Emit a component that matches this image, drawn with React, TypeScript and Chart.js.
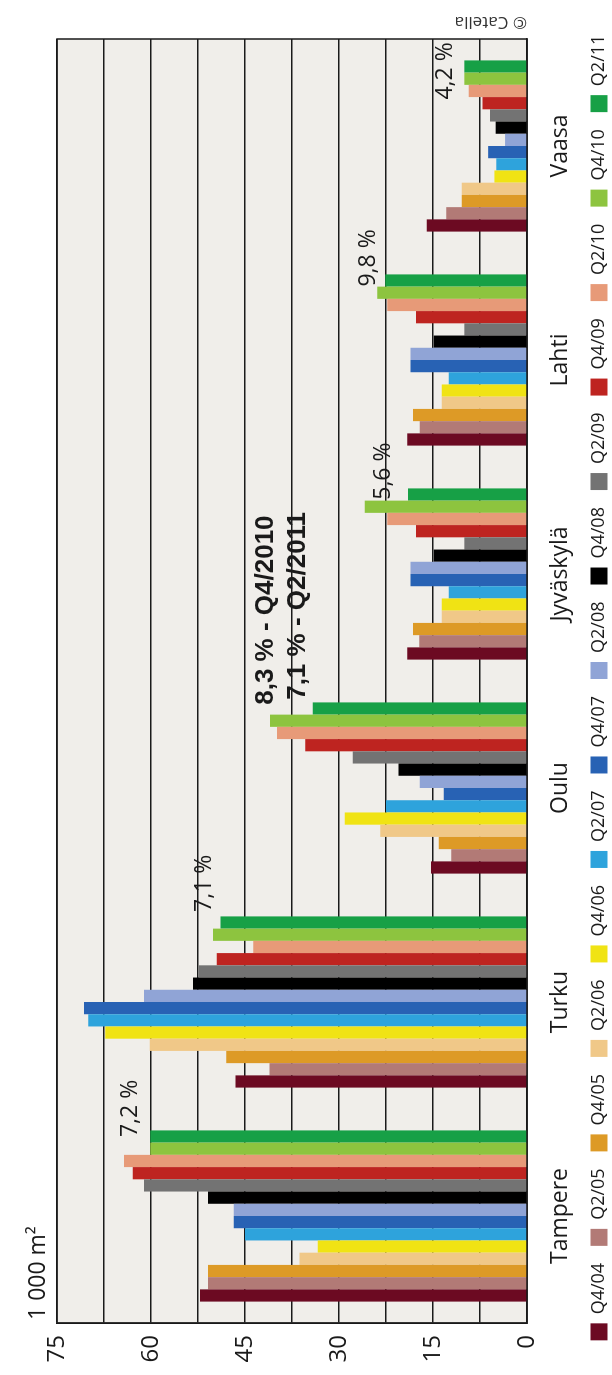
import { useEffect, useRef } from 'react';
import { Chart, registerables } from 'chart.js';

Chart.register(...registerables);

// Office space vacancy by city, 1 000 m², half-year snapshots
const cities = ['Tampere', 'Turku', 'Oulu', 'Jyväskylä', 'Lahti', 'Vaasa'];
const periods = ['Q4/04', 'Q2/05', 'Q4/05', 'Q2/06', 'Q4/06', 'Q2/07', 'Q4/07', 'Q2/08', 'Q4/08', 'Q2/09', 'Q4/09', 'Q2/10', 'Q4/10', 'Q2/11'];

const q4_04 = [52.2, 46.5, 15.3, 19.1, 19.1, 16.0];
const q2_05 = [50.9, 41.1, 12.1, 17.2, 17.1, 12.9];
const q4_05 = [50.9, 48.0, 14.1, 18.2, 18.2, 10.4];
const q2_06 = [36.3, 60.2, 23.4, 13.6, 13.6, 10.4];
const q4_06 = [33.4, 67.3, 29.1, 13.6, 13.6, 5.2];
const q2_07 = [45.0, 70.0, 22.5, 12.5, 12.5, 4.9];
const q4_07 = [46.8, 70.7, 13.3, 18.6, 18.6, 6.2];
const q2_08 = [46.8, 61.1, 17.1, 18.6, 18.6, 3.5];
const q4_08 = [50.9, 53.3, 20.5, 14.9, 14.9, 5.0];
const q2_09 = [61.1, 52.4, 27.8, 10.0, 10.0, 5.9];
const q4_09 = [62.9, 49.5, 35.4, 17.7, 17.7, 7.1];
const q2_10 = [64.3, 43.7, 39.9, 22.3, 22.3, 9.3];
const q4_10 = [60.1, 50.1, 41.0, 25.9, 23.9, 10.0];
const q2_11 = [60.1, 48.9, 34.2, 19.0, 22.6, 10.0];

const seriesValues = [q4_04, q2_05, q4_05, q2_06, q4_06, q2_07, q4_07, q2_08, q4_08, q2_09, q4_09, q2_10, q4_10, q2_11];

const seriesColors = [
  '#6c0a22', '#b27a76', '#dd9a26', '#f0c888', '#f0e314', '#2ea3dc', '#2862b4',
  '#90a4d6', '#000000', '#737373', '#be2420', '#e79a78', '#8dc43f', '#17a046',
];

const valueTicks = [0, 15, 30, 45, 60, 75];

// Vacancy-rate notes: text, anchor on the category axis, baseline level on the value axis
const noteTexts = ['7,2 %', '7,1 %', '8,3 % - Q4/2010', '7,1 % - Q2/2011', '5,6 %', '9,8 %', '4,2 %'];
const noteAnchors = [0.369, 1.421, 2.389, 2.412, 3.347, 4.343, 5.217];
const noteLevels = [62.2, 50.4, 40.6, 35.5, 21.9, 24.3, 11.9];
const noteBold = [false, false, true, true, false, false, false];

const unitLabel = '1 000 m²';
const sourceLabel = '© Catella';

const FAMILY = '"Open Sans", "Noto Sans", sans-serif';
const INK = '#1a1a1a';
const PLOT_BG = '#f0eeea';

const W = 1375;
const H = 640;

const decorPlugin = {
  id: 'decor',
  beforeDraw(chart: any) {
    const { ctx, chartArea: a, scales } = chart;
    ctx.save();
    ctx.fillStyle = PLOT_BG;
    ctx.fillRect(a.left, a.top, a.right - a.left, a.bottom - a.top);
    ctx.fillStyle = INK;
    ctx.textAlign = 'left';
    ctx.textBaseline = 'alphabetic';
    noteTexts.forEach((t, i) => {
      ctx.font = noteBold[i]
        ? 'bold 26px "Liberation Sans", Arial, sans-serif'
        : `23px ${FAMILY}`;
      const x = scales.x.getPixelForValue(noteAnchors[i]);
      const y = scales.y.getPixelForValue(noteLevels[i]);
      ctx.fillText(t, x, y);
    });
    ctx.restore();
  },
  beforeDatasetsDraw(chart: any) {
    const { ctx, chartArea: a } = chart;
    ctx.save();
    ctx.strokeStyle = INK;
    ctx.lineWidth = 1.5;
    ctx.strokeRect(a.left, a.top, a.right - a.left, a.bottom - a.top);
    ctx.restore();
  },
  afterDraw(chart: any) {
    const { ctx, chartArea: a } = chart;
    ctx.save();
    ctx.fillStyle = INK;
    ctx.font = `23px ${FAMILY}`;
    ctx.textAlign = 'left';
    ctx.textBaseline = 'alphabetic';
    ctx.fillText(unitLabel, a.left + 3, a.top - 12);

    ctx.fillStyle = '#333333';
    ctx.font = `17px ${FAMILY}`;
    ctx.translate(a.right + 22, a.bottom);
    ctx.rotate(-Math.PI / 2);
    ctx.fillText(sourceLabel, 0, 0);
    ctx.restore();
  },
};

export default function App() {
  const canvasRef = useRef<HTMLCanvasElement | null>(null);

  useEffect(() => {
    const canvas = canvasRef.current;
    if (!canvas) return;
    const chart = new Chart(canvas, {
      type: 'bar',
      data: {
        labels: cities,
        datasets: periods.map((p, i) => ({
          label: p,
          data: seriesValues[i],
          backgroundColor: seriesColors[i],
          borderWidth: 0,
          barPercentage: 1,
          categoryPercentage: 0.8,
        })),
      },
      options: {
        responsive: false,
        animation: false,
        devicePixelRatio: 1,
        layout: { padding: { top: 57, right: 0, bottom: 22, left: 0 } },
        plugins: {
          legend: {
            position: 'bottom',
            labels: {
              boxWidth: 17,
              boxHeight: 17,
              padding: 17,
              color: INK,
              font: { family: FAMILY, size: 18 },
            },
          },
          tooltip: { enabled: false },
        },
        scales: {
          x: {
            grid: { display: false },
            border: { display: true, color: INK, width: 1.5 },
            ticks: {
              color: INK,
              font: { family: FAMILY, size: 23 },
              padding: 12,
              maxRotation: 0,
              autoSkip: false,
            },
            afterFit(scale: any) {
              scale.height = 46;
            },
          },
          y: {
            min: 0,
            max: 75,
            grid: { color: INK, lineWidth: 1.5, drawTicks: false },
            border: { display: true, color: INK, width: 1.5 },
            ticks: {
              stepSize: 7.5,
              padding: 12,
              color: INK,
              font: { family: FAMILY, size: 24 },
              callback: (v: any) => (valueTicks.includes(Number(v)) ? String(v) : ''),
            },
            afterFit(scale: any) {
              scale.width = 52;
            },
          },
          // empty strip on the far side that holds the copyright line
          yRight: {
            position: 'right',
            min: 0,
            max: 75,
            grid: { display: false },
            border: { display: false },
            ticks: { display: false },
            afterFit(scale: any) {
              scale.width = 39;
            },
          },
        },
      },
      plugins: [decorPlugin],
    });
    return () => chart.destroy();
  }, []);

  return (
    <div
      style={{
        position: 'absolute',
        left: 0,
        top: 0,
        width: 612,
        height: 1375,
        overflow: 'hidden',
        background: '#ffffff',
      }}
    >
      <div
        style={{
          position: 'absolute',
          left: 0,
          top: 0,
          width: W,
          height: H,
          transformOrigin: '0 0',
          transform: `translate(0px, ${W}px) rotate(-90deg)`,
        }}
      >
        <canvas ref={canvasRef} width={W} height={H} style={{ display: 'block' }} />
      </div>
    </div>
  );
}
